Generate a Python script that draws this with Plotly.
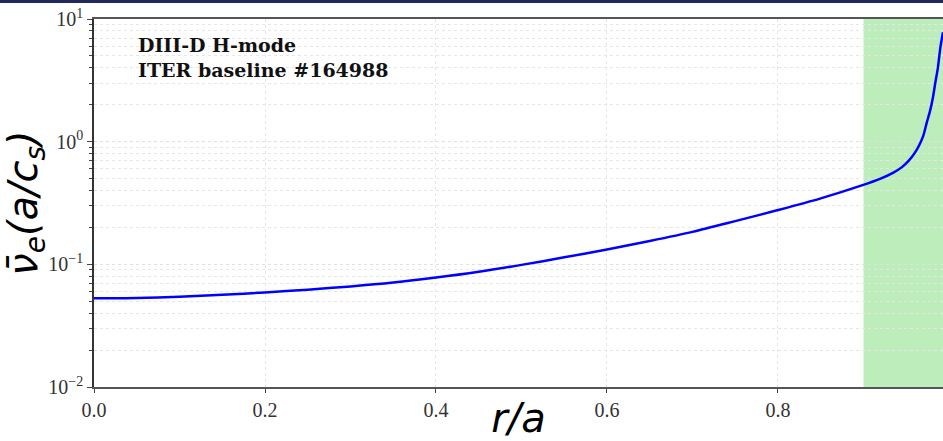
import plotly.graph_objects as go

r_a = [0.0, 0.05, 0.1, 0.15, 0.2, 0.25, 0.3, 0.35, 0.4, 0.45, 0.5, 0.55, 0.6, 0.65, 0.7, 0.75, 0.8, 0.85, 0.898, 0.92, 0.935, 0.945, 0.953, 0.96, 0.965, 0.970, 0.974, 0.978, 0.981, 0.984, 0.987, 0.990, 0.993]
nu_e = [0.0528, 0.0532, 0.0545, 0.0565, 0.059, 0.0622, 0.066, 0.071, 0.078, 0.087, 0.099, 0.114, 0.132, 0.155, 0.184, 0.225, 0.277, 0.345, 0.44, 0.50, 0.56, 0.62, 0.70, 0.81, 0.93, 1.12, 1.43, 1.8, 2.25, 3.02, 4.0, 5.9, 7.8]
x_ticks = [0.0, 0.2, 0.4, 0.6, 0.8]
x_tick_text = ["0.0", "0.2", "0.4", "0.6", "0.8"]
y_ticks = [0.01, 0.1, 1, 10]
y_tick_text = ["10<sup>−2</sup>", "10<sup>−1</sup>", "10<sup>0</sup>", "10<sup>1</sup>"]
shade_range = [0.9, 1.0]
annotation_lines = ["DIII-D H-mode", "ITER baseline #164988"]

fig = go.Figure()
fig.add_vrect(x0=shade_range[0], x1=shade_range[1], fillcolor="#bdedba", opacity=1, line_width=0, layer="below")
fig.add_trace(go.Scatter(x=r_a, y=nu_e, mode="lines", line=dict(color="#0000ff", width=2.5, shape="spline", smoothing=0.8), showlegend=False))

fig.add_annotation(xref="paper", yref="paper", x=0.050, y=0.965, xanchor="left", yanchor="top",
                   text="<b>" + "<br>".join(annotation_lines) + "</b>", showarrow=False, align="left",
                   font=dict(family="DejaVu Serif, serif", size=19, color="#111"))

# top navy band
fig.add_shape(type="rect", xref="paper", yref="paper", x0=-0.2, x1=1.1, y0=1 + 16/368, y1=1 + 19/368,
              fillcolor="#1f2a5a", line_width=0, layer="above")

fig.update_layout(
    width=943, height=441,
    margin=dict(l=94, r=0, t=19, b=54, autoexpand=False),
    paper_bgcolor="white", plot_bgcolor="white",
    font=dict(family="Liberation Serif, DejaVu Serif, serif", size=20, color="#333"),
)
fig.update_xaxes(range=[0, 0.993], tickvals=x_ticks, ticktext=x_tick_text, ticks="outside", ticklen=4,
                 automargin=False,
                 showline=True, linecolor="#555", linewidth=1.5, mirror=True,
                 showgrid=True, gridcolor="#e6e6e6", griddash="dot", gridwidth=1, zeroline=False,
                 title=dict(text="<i>r/a</i>", font=dict(family="DejaVu Sans", size=40, color="black"), standoff=0))
fig.update_yaxes(type="log", range=[-2, 1], tickvals=y_ticks, ticktext=y_tick_text, ticks="outside", ticklen=5,
                 automargin=False,
                 showline=True, linecolor="#333", linewidth=1.5, mirror=True,
                 showgrid=True, gridcolor="#e0e0e0", griddash="dot", gridwidth=1, zeroline=False,
                 minor=dict(ticks="outside", ticklen=3, showgrid=True, gridcolor="#e6e6e6", griddash="dot", dtick="D1"),
                 title=dict(text="<i>ν̄<sub>e</sub>(a/c<sub>s</sub>)</i>", font=dict(family="DejaVu Sans", size=40, color="black"), standoff=6))

fig.write_html("out.html")
